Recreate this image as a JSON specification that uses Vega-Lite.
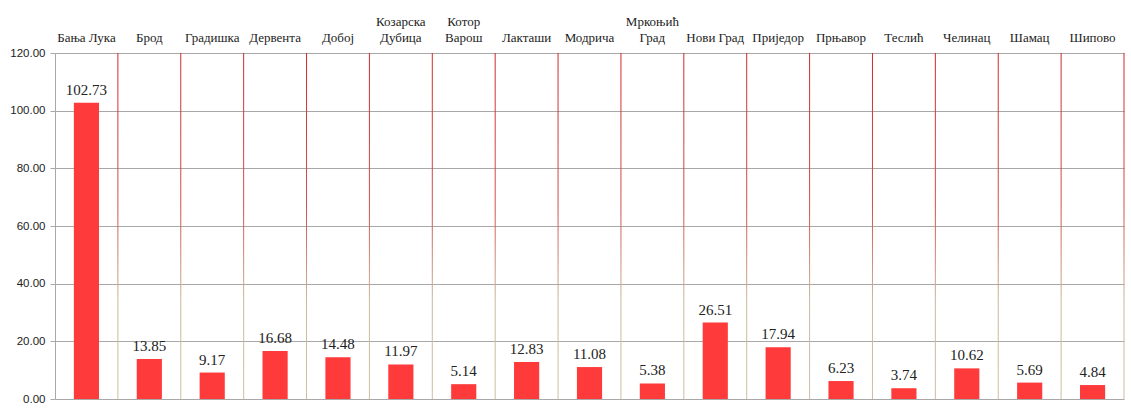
{
  "$schema": "https://vega.github.io/schema/vega-lite/v6.json",
  "autosize": {"type": "none"},
  "width": 1069,
  "height": 346,
  "padding": {"left": 55, "top": 53, "right": 7, "bottom": 9},
  "background": "white",
  "config": {"view": {"stroke": null}},
  "data": {"values": [
    {"grad": "Бања Лука", "v": 102.73},
    {"grad": "Брод", "v": 13.85},
    {"grad": "Градишка", "v": 9.17},
    {"grad": "Дервента", "v": 16.68},
    {"grad": "Добој", "v": 14.48},
    {"grad": "Козарска Дубица", "v": 11.97},
    {"grad": "Котор Варош", "v": 5.14},
    {"grad": "Лакташи", "v": 12.83},
    {"grad": "Модрича", "v": 11.08},
    {"grad": "Мркоњић Град", "v": 5.38},
    {"grad": "Нови Град", "v": 26.51},
    {"grad": "Приједор", "v": 17.94},
    {"grad": "Прњавор", "v": 6.23},
    {"grad": "Теслић", "v": 3.74},
    {"grad": "Челинац", "v": 10.62},
    {"grad": "Шамац", "v": 5.69},
    {"grad": "Шипово", "v": 4.84}
  ]},
  "encoding": {
    "x": {
      "field": "grad", "type": "nominal", "sort": null,
      "scale": {"paddingInner": 0, "paddingOuter": 0},
      "axis": {
        "orient": "top", "title": null, "domain": false, "ticks": false, "grid": false,
        "labelAngle": 0, "labelBaseline": "bottom",
        "labelPadding": {"condition": {"test": "indexof(['Козарска Дубица','Котор Варош','Мркоњић Град'], datum.value) >= 0", "value": 25}, "value": 9},
        "labelFont": "Liberation Serif", "labelFontSize": 13, "labelColor": "#222222",
        "labelLineHeight": 16,
        "labelExpr": "indexof(['Козарска Дубица','Котор Варош','Мркоњић Град'], datum.label) >= 0 ? split(datum.label, ' ') : datum.label"
      }
    }
  },
  "layer": [
    {
      "mark": {"type": "tick", "orient": "vertical", "thickness": 1, "size": 346,
        "color": {"gradient": "linear", "x1": 0, "y1": 0, "x2": 0, "y2": 1,
          "stops": [
            {"offset": 0, "color": "#d02828"},
            {"offset": 0.45, "color": "#d0504a"},
            {"offset": 0.72, "color": "#cbb89c"},
            {"offset": 1, "color": "#cdbf9f"}
          ]},
        "opacity": 1},
      "encoding": {
        "x": {"field": "grad", "type": "nominal", "sort": null, "bandPosition": 1},
        "y": {"datum": 60, "type": "quantitative"}
      }
    },
    {
      "mark": {"type": "bar", "color": "#ff3a3a", "width": {"band": 0.4}},
      "encoding": {
        "y": {
          "field": "v", "type": "quantitative",
          "scale": {"domain": [0, 120], "nice": false},
          "axis": {
            "title": null, "values": [0, 20, 40, 60, 80, 100, 120], "format": ".2f",
            "grid": true, "gridColor": "#a8a8a8", "gridWidth": 1,
            "domain": true, "domainColor": "#a8a8a8",
            "ticks": true, "tickSize": 5, "tickColor": "#a8a8a8",
            "labelPadding": 5, "labelFont": "Liberation Sans", "labelFontSize": 11.5,
            "labelColor": "#222222"
          }
        }
      }
    },
    {
      "mark": {"type": "text", "font": "Liberation Serif", "fontSize": 15, "color": "#222222",
        "baseline": "alphabetic", "dy": -8},
      "encoding": {
        "y": {"field": "v", "type": "quantitative"},
        "text": {"field": "v", "type": "quantitative", "format": ".2f"}
      }
    }
  ]
}
